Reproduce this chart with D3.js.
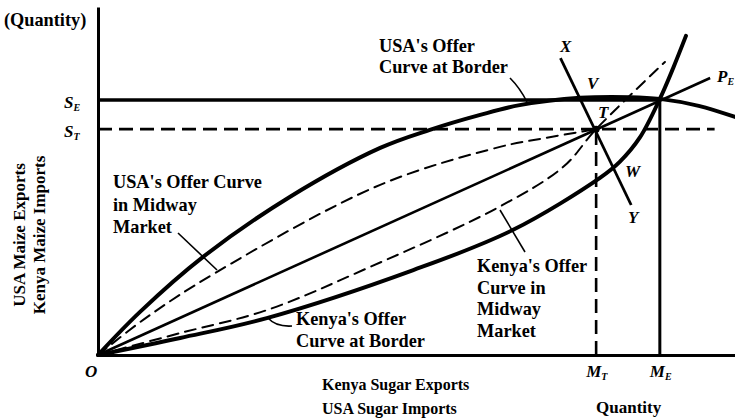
<!DOCTYPE html>
<html><head><meta charset="utf-8">
<script src="https://cdn.jsdelivr.net/npm/d3@7"></script>
<style>
body{margin:0;background:#fff}
svg{display:block}
text{font-family:"Liberation Serif","Times New Roman",serif;font-weight:bold;fill:#000;font-size:16px}
.it{font-style:italic}
</style></head><body>
<svg id="chart" width="735" height="419"></svg>
<script>
// Equilibrium quantities: sugar (horizontal) and maize (vertical)
const sugarMarks = [{name:"M", sub:"T", value:78.2}, {name:"M", sub:"E", value:88.2}];
const maizeMarks = [{name:"S", sub:"E", value:73.3}, {name:"S", sub:"T", value:64.9}];

// Offer curves, [sugar, maize]
const usaBorder   = [[0,0],[6.6,12.4],[16.5,28.2],[30.1,45.4],[44.3,59.5],[52.1,64.7],[60.0,69.0],[66.2,71.8],[75.7,73.9],[83.5,74.1],[88.2,73.6],[94.3,71.6],[100,68.4]];
const kenyaBorder = [[0,0],[12.9,4.9],[26.5,10.6],[49.5,24.4],[65.1,35.9],[78.8,50.9],[81.9,55.5],[85.1,62.6],[88.2,73.6],[90.3,82.5],[92.3,91.7]];
const usaMidway   = [[0,0],[7.7,10.9],[18.7,23.9],[44.3,48.9],[63.1,59.8],[69.4,62.1],[78.2,64.9]];
const kenyaMidway = [[0,0],[12.9,6.3],[26.5,12.9],[42.7,25.3],[62.6,42.2],[73.0,54.0],[78.2,64.9],[89.0,84.2]];

// Terms-of-trade ray O–T–E–P_E and the line X–V–T–W–Y
const priceRay = [[0,0],[96.1,79.6]];
const xyLine   = [[72.6,85.3],[83.7,43.1]];

const svg = d3.select("#chart");
const x = d3.scaleLinear().domain([0,100]).range([98,735]);
const y = d3.scaleLinear().domain([0,100]).range([355,7]);

const line = d3.line().x(d=>x(d[0])).y(d=>y(d[1])).curve(d3.curveCatmullRom.alpha(0.5));
const straight = d3.line().x(d=>x(d[0])).y(d=>y(d[1]));

const T = [sugarMarks[0].value, maizeMarks[1].value];
const E = [sugarMarks[1].value, maizeMarks[0].value];

// Axes
svg.append("g").attr("transform",`translate(${x(0)},0)`)
  .call(d3.axisLeft(y).tickValues([]).tickSizeOuter(0))
  .call(g=>g.select(".domain").attr("stroke-width",3));
svg.append("g").attr("transform",`translate(0,${y(0)})`)
  .call(d3.axisBottom(x).tickValues([]).tickSizeOuter(0))
  .call(g=>g.select(".domain").attr("stroke-width",3));

// Guide lines to the axes
svg.append("path").attr("d",straight([[0,E[1]],E])).attr("stroke","#000").attr("stroke-width",3.5).attr("fill","none");
svg.append("path").attr("d",straight([[E[0],0],E])).attr("stroke","#000").attr("stroke-width",3).attr("fill","none");
svg.append("path").attr("d",straight([[0,T[1]],[96.8,T[1]]])).attr("stroke","#000").attr("stroke-width",2.6).attr("stroke-dasharray","14 7").attr("fill","none");
svg.append("path").attr("d",straight([[T[0],0],T])).attr("stroke","#000").attr("stroke-width",2.6).attr("stroke-dasharray","14 7").attr("fill","none");

// Curves
const drawCurve = (data, w, dash) => svg.append("path").attr("d",line(data))
  .attr("fill","none").attr("stroke","#000").attr("stroke-width",w)
  .attr("stroke-linecap","round").attr("stroke-dasharray",dash||null);
drawCurve(usaMidway, 2, "11 7");
drawCurve(kenyaMidway, 2, "11 7");
drawCurve(usaBorder, 4);
drawCurve(kenyaBorder, 4);
svg.append("path").attr("d",straight(priceRay)).attr("stroke","#000").attr("stroke-width",2.6).attr("fill","none");
svg.append("path").attr("d",straight(xyLine)).attr("stroke","#000").attr("stroke-width",2.8).attr("fill","none");
svg.append("circle").attr("cx",x(T[0])).attr("cy",y(T[1])).attr("r",3.5).attr("fill","#000");

// Leader lines
const lead = (d) => svg.append("path").attr("d",d).attr("fill","none").attr("stroke","#000").attr("stroke-width",1.6);
lead("M510,78 Q520,88 527,102");
lead("M178,233 L217,270");
lead("M500,210 L525,252");
lead("M268,318 Q276,327 292,326");

// Text blocks
const block = (lines, x0, y0, dy, size) => {
  const t = svg.append("text").attr("x",x0).attr("y",y0).style("font-size",size+"px");
  lines.forEach((s,i)=>t.append("tspan").attr("x",x0).attr("dy",i?dy:0).text(s));
};
block(["(Quantity)"], 4, 26, 0, 18.3);
block(["USA's Offer","Curve at Border"], 379, 52, 21, 18.3);
block(["USA's Offer Curve","in Midway","Market"], 113, 188, 22.5, 18.3);
block(["Kenya's Offer","Curve in","Midway","Market"], 477, 272, 21.5, 18.3);
block(["Kenya's Offer","Curve at Border"], 296, 325, 22, 18.3);
block(["Kenya Sugar Exports","USA Sugar Imports"], 322, 390, 24, 16);
block(["Quantity"], 596, 413, 0, 17);

svg.append("text").attr("transform","translate(25,235) rotate(-90)").attr("text-anchor","middle").style("font-size","17px").text("USA Maize Exports");
svg.append("text").attr("transform","translate(45,235) rotate(-90)").attr("text-anchor","middle").style("font-size","17px").text("Kenya Maize Imports");

// Italic point letters
const letter = (main, sub, x0, y0) => {
  const t = svg.append("text").attr("class","it").attr("x",x0).attr("y",y0).style("font-size","17px").text(main);
  if (sub) t.append("tspan").attr("dy",3).style("font-size","10px").text(sub);
};
letter("O",null,85,377);
letter("X",null,560,52);
letter("V",null,587,89);
letter("T",null,598,118);
letter("W",null,625,177);
letter("Y",null,628,223);
letter("P","E",717,82);
maizeMarks.forEach(m=>letter(m.name,m.sub,64,y(m.value)+8));
sugarMarks.forEach(m=>letter(m.name,m.sub,x(m.value)-10,377));
</script>
</body></html>
